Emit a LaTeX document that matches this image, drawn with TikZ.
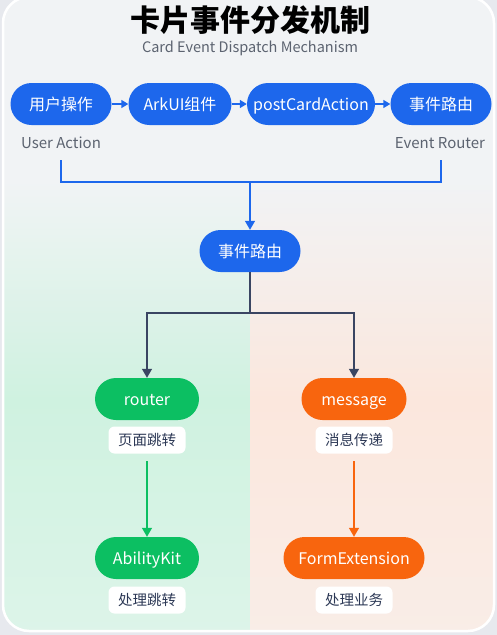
\documentclass[tikz,border=0pt]{standalone}
\usepackage{fontspec}
\setmainfont{Noto Sans CJK SC}
\usetikzlibrary{arrows.meta}
\definecolor{outerbg}{HTML}{E7E9EE}
\definecolor{topbg}{HTML}{F1F3F5}
\definecolor{greenbg}{HTML}{CFF2E0}
\definecolor{greenbg2}{HTML}{DDF4E9}
\definecolor{orangebg}{HTML}{FBE7DD}
\definecolor{orangebg2}{HTML}{F9EDE7}
\definecolor{cblue}{HTML}{1D67EC}
\definecolor{cgreen}{HTML}{0CBF62}
\definecolor{corange}{HTML}{F8650E}
\definecolor{cdark}{HTML}{3A4562}
\definecolor{ctext}{HTML}{2C3855}
\definecolor{cgray}{HTML}{5C6370}
\tikzset{
  pill/.style={rounded corners=21pt, minimum height=42pt, inner sep=0pt, text=white,
    text height=12.5pt, text depth=0pt, font=\fontsize{16}{19}\selectfont},
  bluepill/.style={pill, fill=cblue},
  greenpill/.style={pill, fill=cgreen},
  orangepill/.style={pill, fill=corange},
  tagbox/.style={fill=white, rounded corners=6pt, minimum width=77pt, minimum height=27pt,
    inner sep=0pt, text height=11.5pt, text depth=0pt, text=ctext, font=\fontsize{14.5}{17}\selectfont},
  sublabel/.style={text=cgray, font=\fontsize{15}{18}\selectfont, inner sep=0pt},
  bigarr/.style={-{Triangle[width=10pt,length=9pt]}},
  smallarr/.style={-{Triangle[width=8pt,length=7pt]}},
  blueline/.style={draw=cblue, line width=1.4pt},
  darkline/.style={draw=cdark, line width=1.4pt},
  greenline/.style={draw=cgreen, line width=1.4pt},
  orangeline/.style={draw=corange, line width=1.4pt},
}
\begin{document}
\begin{tikzpicture}[x=1pt,y=-1pt]
\useasboundingbox (0,0) rectangle (497,635);
\fill[outerbg] (0,0) rectangle (497,635);
\begin{scope}
  \clip[rounded corners=26pt] (3,-3) rectangle (494,631);
  \fill[topbg] (0,0) rectangle (497,635);
  \shade[top color=topbg, bottom color=greenbg] (0,180) rectangle (250,400);
  \shade[top color=greenbg, bottom color=greenbg2] (0,400) rectangle (250,635);
  \shade[top color=topbg, bottom color=orangebg] (250,180) rectangle (497,400);
  \shade[top color=orangebg, bottom color=orangebg2] (250,400) rectangle (497,635);
\end{scope}
\draw[white, line width=2.5pt, rounded corners=26pt] (3,-3) rectangle (494,631);

\node[font=\fontsize{30}{34}\selectfont\bfseries, text=black] (title) at (250,20) {卡片事件分发机制};
\node[sublabel, font=\fontsize{14.5}{17}\selectfont] (subtitle) at (250,48) {Card Event Dispatch Mechanism};

\node[bluepill, minimum width=101pt] (a) at (61,104) {用户操作};
\node[bluepill, minimum width=103pt] (b) at (180,104) {ArkUI组件};
\node[bluepill, minimum width=128pt] (c) at (311,104) {postCardAction};
\node[bluepill, minimum width=101pt] (d) at (441,104) {事件路由};
\draw[blueline, smallarr] (a) -- (b);
\draw[blueline, smallarr] (b) -- (c);
\draw[blueline, smallarr] (c) -- (d);

\node[sublabel] (ua) at (61,143) {User Action};
\node[sublabel] (er) at (440,143) {Event Router};

\coordinate (ua1) at (61,160);
\coordinate (er1) at (441,160);
\coordinate (j) at (250,182);
\draw[blueline] (ua1) |- (j) -| (er1);

\node[bluepill, minimum width=101pt] (m) at (250,251) {事件路由};
\draw[blueline, bigarr] (j) -- (m);

\coordinate (k) at (250,313);
\node[greenpill, minimum width=104pt] (r) at (147,399) {router};
\node[orangepill, minimum width=105pt] (msg) at (354,399) {message};
\draw[darkline] (m) -- (k);
\draw[darkline, bigarr] (k) -| (r);
\draw[darkline, bigarr] (k) -| (msg);

\node[tagbox] (t1) at (147,440) {页面跳转};
\node[tagbox] (t2) at (354,440) {消息传递};

\node[greenpill, minimum width=104pt] (ak) at (147,558) {AbilityKit};
\node[orangepill, minimum width=141pt] (fe) at (354,558) {FormExtension};

\coordinate (g1) at (147,461);
\coordinate (o1) at (354,461);
\draw[greenline, bigarr] (g1) -- (ak);
\draw[orangeline, bigarr] (o1) -- (fe);

\node[tagbox] (t3) at (147,600) {处理跳转};
\node[tagbox] (t4) at (354,600) {处理业务};
\end{tikzpicture}
\end{document}
